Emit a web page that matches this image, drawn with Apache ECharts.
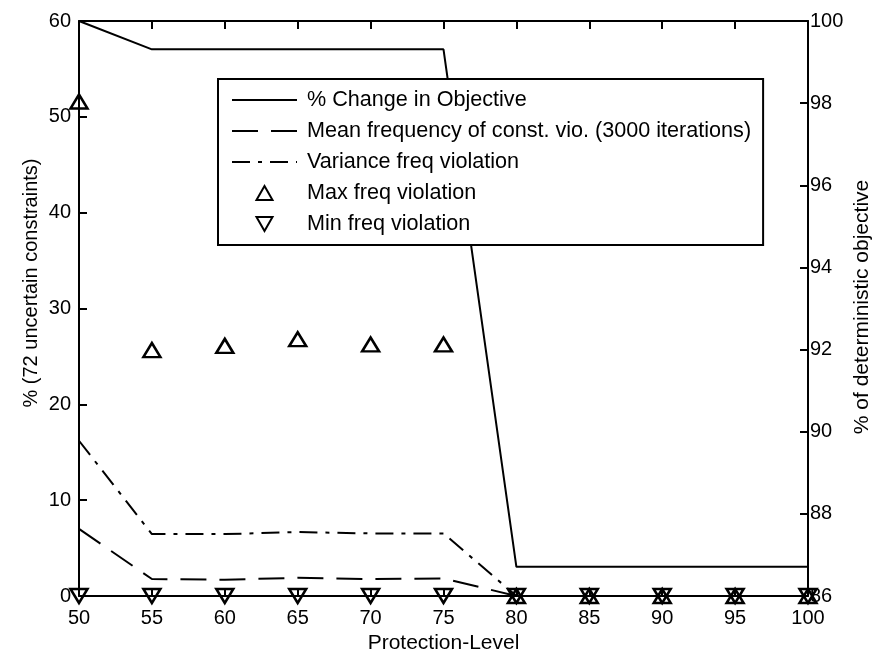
<!DOCTYPE html>
<html>
<head>
<meta charset="utf-8">
<script src="https://cdn.jsdelivr.net/npm/echarts@6/dist/echarts.min.js"></script>
<style>
  html, body { margin: 0; padding: 0; background: #fff; }
  #chart { width: 878px; height: 659px; }
</style>
</head>
<body>
<div id="chart"></div>
<script>
// Protection levels on the x axis
const protection = [50, 55, 60, 65, 70, 75, 80, 85, 90, 95, 100];
// Right axis: objective as % of the deterministic objective
const objectiveChange = [100, 99.31, 99.31, 99.31, 99.31, 99.31, 86.71, 86.71, 86.71, 86.71, 86.71];
// Left axis: constraint violation statistics (% of 72 uncertain constraints)
const meanFreq = [7.0, 1.77, 1.7, 1.9, 1.77, 1.84, 0, 0, 0, 0, 0];
const varianceFreq = [16.2, 6.46, 6.46, 6.67, 6.53, 6.53, 0, 0, 0, 0, 0];
const maxFreq = [51.6, 25.66, 26.1, 26.8, 26.25, 26.25, 0, 0, 0, 0, 0];
const minFreq = [0, 0, 0, 0, 0, 0, 0, 0, 0, 0, 0];

const seriesNames = [
  '% Change in Objective',
  'Mean frequency of const. vio. (3000 iterations)',
  'Variance freq violation',
  'Max freq violation',
  'Min freq violation'
];
const xTitle = 'Protection-Level';
const leftTitle = '% (72 uncertain constraints)';
const rightTitle = '% of deterministic objective';

const FONT = '"Liberation Sans", Arial, Helvetica, sans-serif';
const pair = (ys) => protection.map((x, i) => [x, ys[i]]);

// Outline triangles for the marker legend entries
const UP_TRIANGLE = 'path://M8,0L16,14L0,14Z';
const DOWN_TRIANGLE = 'path://M0,0L16,0L8,14Z';
// Line legend entries: hide the default marker, keep the stroke
const noMarker = { color: 'rgba(0,0,0,0)', borderWidth: 0 };

const chart = echarts.init(document.getElementById('chart'), null, { renderer: 'canvas' });

const tickCommon = { show: true, inside: true, length: 8, lineStyle: { color: '#000', width: 2 } };
const lineCommon = { show: true, lineStyle: { color: '#000', width: 2 } };
const labelCommon = { color: '#000', fontSize: 20, fontFamily: FONT };
const markerStyle = { color: 'rgba(255,255,255,0)', borderColor: '#000', borderWidth: 2.5, opacity: 1 };

chart.setOption({
  animation: false,
  backgroundColor: '#fff',
  color: ['#000'],
  grid: { left: 79, right: 70, top: 21, bottom: 62, containLabel: false },
  xAxis: [
    {
      type: 'value', min: 50, max: 100, interval: 5, position: 'bottom',
      axisLine: lineCommon, axisTick: tickCommon,
      axisLabel: Object.assign({ margin: 12 }, labelCommon),
      splitLine: { show: false },
      name: xTitle, nameLocation: 'middle', nameGap: 37,
      nameTextStyle: { color: '#000', fontSize: 21, fontFamily: FONT }
    },
    {
      type: 'value', min: 50, max: 100, interval: 5, position: 'top',
      axisLine: lineCommon, axisTick: tickCommon,
      axisLabel: { show: false }, splitLine: { show: false }
    }
  ],
  yAxis: [
    {
      type: 'value', min: 0, max: 60, interval: 10, position: 'left',
      axisLine: lineCommon, axisTick: tickCommon,
      axisLabel: Object.assign({ margin: 8 }, labelCommon),
      splitLine: { show: false }
    },
    {
      type: 'value', min: 86, max: 100, interval: 2, position: 'right',
      axisLine: lineCommon, axisTick: tickCommon,
      axisLabel: Object.assign({ margin: 2 }, labelCommon),
      splitLine: { show: false }
    }
  ],
  legend: {
    orient: 'vertical', left: 218, top: 79,
    backgroundColor: '#fff', borderColor: '#000', borderWidth: 2,
    padding: [10, 12, 10, 13], itemGap: 9,
    itemWidth: 65, itemHeight: 14, symbolKeepAspect: true,
    textStyle: { color: '#000', fontSize: 21.6, fontFamily: FONT, padding: [0, 0, 0, 5] },
    data: [
      { name: seriesNames[0], itemStyle: noMarker },
      { name: seriesNames[1], itemStyle: noMarker },
      { name: seriesNames[2], itemStyle: noMarker },
      { name: seriesNames[3], icon: UP_TRIANGLE },
      { name: seriesNames[4], icon: DOWN_TRIANGLE }
    ]
  },
  graphic: [
    {
      type: 'text', x: 31, y: 283, rotation: Math.PI / 2,
      style: { text: leftTitle, fill: '#000', font: '20px ' + FONT, textAlign: 'center', textVerticalAlign: 'middle' }
    },
    {
      type: 'text', x: 862, y: 307, rotation: Math.PI / 2,
      style: { text: rightTitle, fill: '#000', font: '21px ' + FONT, textAlign: 'center', textVerticalAlign: 'middle' }
    }
  ],
  series: [
    {
      name: seriesNames[0], type: 'line', xAxisIndex: 0, yAxisIndex: 1,
      data: pair(objectiveChange), symbol: 'none', clip: false,
      itemStyle: { color: '#000' },
      lineStyle: { color: '#000', width: 2, type: 'solid' }, z: 3
    },
    {
      name: seriesNames[1], type: 'line', xAxisIndex: 0, yAxisIndex: 0,
      data: pair(meanFreq), symbol: 'none', clip: false,
      itemStyle: { color: '#000' },
      lineStyle: { color: '#000', width: 2, type: [26, 13] }, z: 3
    },
    {
      name: seriesNames[2], type: 'line', xAxisIndex: 0, yAxisIndex: 0,
      data: pair(varianceFreq), symbol: 'none', clip: false,
      itemStyle: { color: '#000' },
      lineStyle: { color: '#000', width: 2, type: [18, 8, 4, 8] }, z: 3
    },
    {
      name: seriesNames[3], type: 'scatter', xAxisIndex: 0, yAxisIndex: 0,
      data: pair(maxFreq), symbol: 'triangle', symbolSize: [17, 14], clip: false,
      itemStyle: markerStyle, z: 4
    },
    {
      name: seriesNames[4], type: 'scatter', xAxisIndex: 0, yAxisIndex: 0,
      data: pair(minFreq), symbol: 'triangle', symbolRotate: 180, symbolSize: [17, 14], clip: false,
      itemStyle: markerStyle, z: 4
    }
  ]
});
</script>
</body>
</html>
